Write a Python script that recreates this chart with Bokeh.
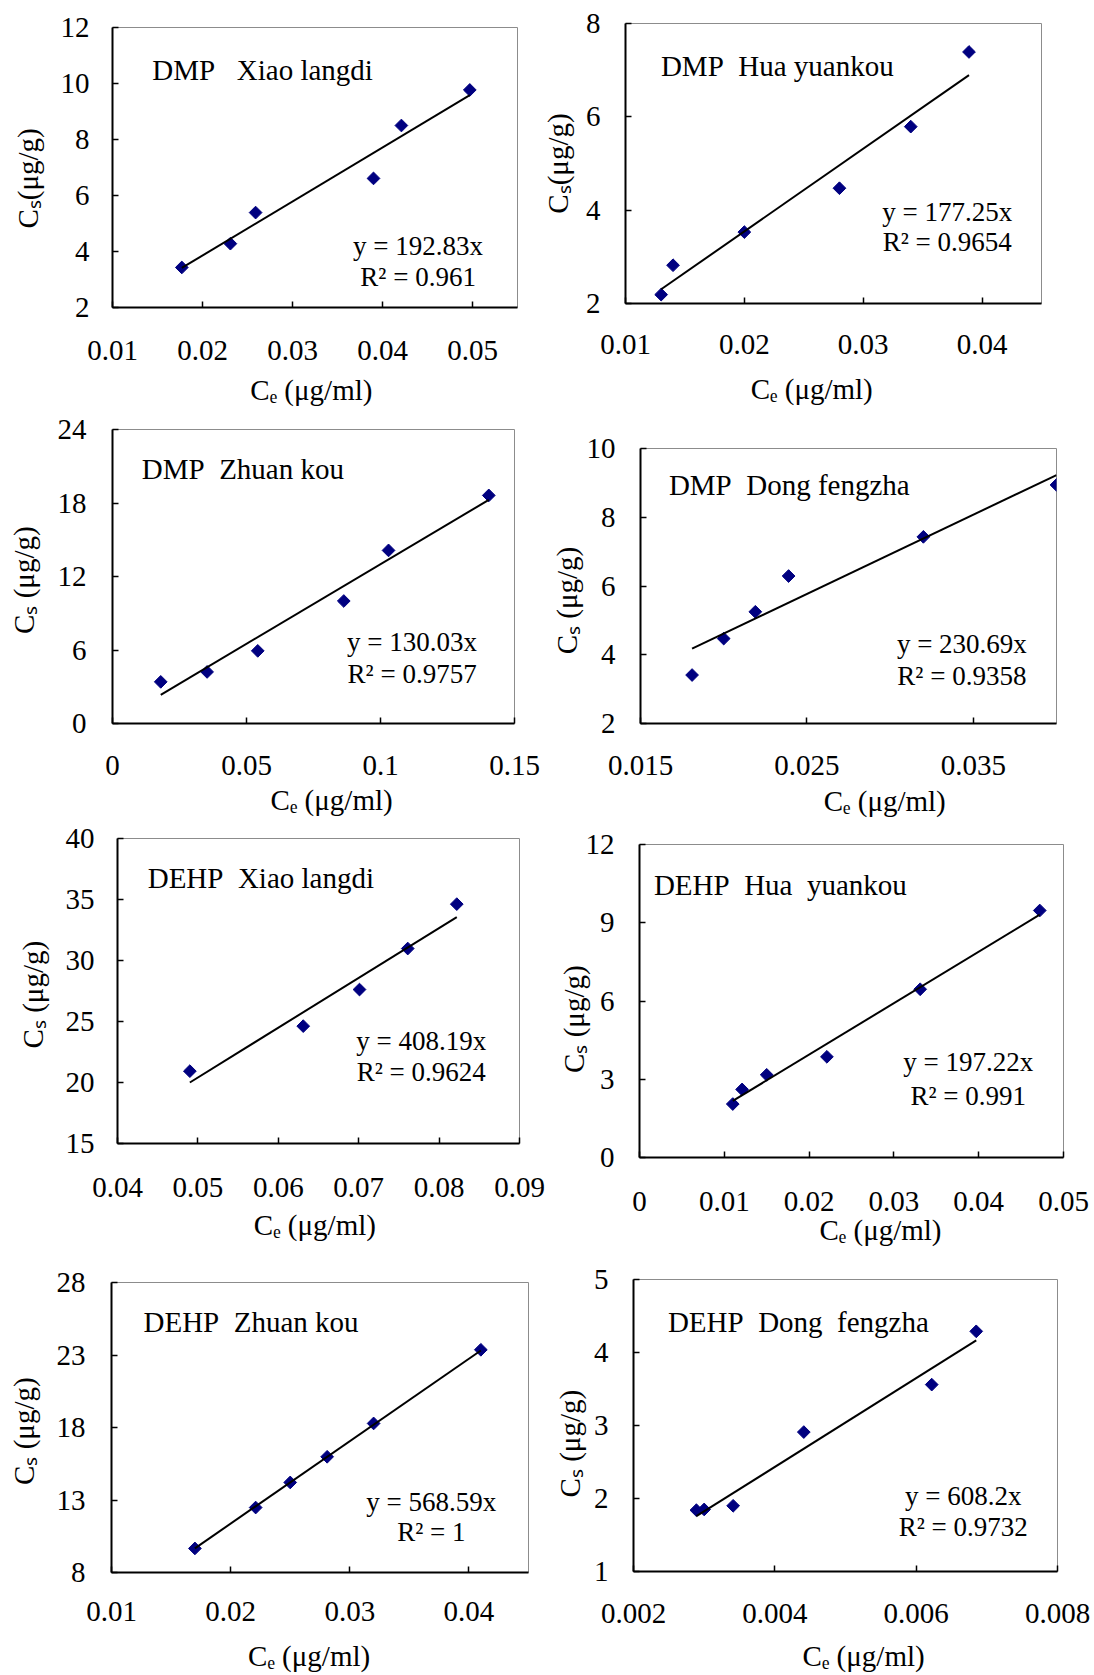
import numpy as np
from bokeh.plotting import figure
from bokeh.models import Range1d, FixedTicker, CustomJSTickFormatter, Label
from bokeh.layouts import column, row
from bokeh.embed import file_html
from bokeh.resources import INLINE

FONT = "'Liberation Serif'"
NB = "\u00a0"

# ---------------- data ----------------
p1_title = "DMP" + NB * 3 + "Xiao langdi"
p1_x = [0.0177, 0.0231, 0.0259, 0.0390, 0.0421, 0.0497]
p1_y = [3.43, 4.28, 5.39, 6.61, 8.50, 9.77]
p1_slope, p1_r2 = 192.83, "0.961"
p1_xticks = [0.01, 0.02, 0.03, 0.04, 0.05]
p1_xlabels = ["0.01", "0.02", "0.03", "0.04", "0.05"]
p1_yticks = [2, 4, 6, 8, 10, 12]
p1_xrange, p1_yrange = (0.01, 0.055), (2, 12)

p2_title = "DMP" + NB * 2 + "Hua yuankou"
p2_x = [0.0130, 0.0140, 0.0200, 0.0280, 0.0340, 0.0389]
p2_y = [2.19, 2.82, 3.53, 4.47, 5.79, 7.39]
p2_slope, p2_r2 = 177.25, "0.9654"
p2_xticks = [0.01, 0.02, 0.03, 0.04]
p2_xlabels = ["0.01", "0.02", "0.03", "0.04"]
p2_yticks = [2, 4, 6, 8]
p2_xrange, p2_yrange = (0.01, 0.045), (2, 8)

p3_title = "DMP" + NB * 2 + "Zhuan kou"
p3_x = [0.0180, 0.0353, 0.0542, 0.0863, 0.1030, 0.1404]
p3_y = [3.40, 4.21, 5.93, 10.0, 14.13, 18.62]
p3_slope, p3_r2 = 130.03, "0.9757"
p3_xticks = [0, 0.05, 0.1, 0.15]
p3_xlabels = ["0", "0.05", "0.1", "0.15"]
p3_yticks = [0, 6, 12, 18, 24]
p3_xrange, p3_yrange = (0, 0.15), (0, 24)

p4_title = "DMP" + NB * 2 + "Dong fengzha"
p4_x = [0.0181, 0.0200, 0.0219, 0.0239, 0.0320, 0.0400]
p4_y = [3.41, 4.47, 5.25, 6.29, 7.43, 8.94]
p4_slope, p4_r2 = 230.69, "0.9358"
p4_xticks = [0.015, 0.025, 0.035]
p4_xlabels = ["0.015", "0.025", "0.035"]
p4_yticks = [2, 4, 6, 8, 10]
p4_xrange, p4_yrange = (0.015, 0.04), (2, 10)

p5_title = "DEHP" + NB * 2 + "Xiao langdi"
p5_x = [0.0490, 0.0631, 0.0701, 0.0761, 0.0822]
p5_y = [20.93, 24.62, 27.62, 30.98, 34.62]
p5_slope, p5_r2 = 408.19, "0.9624"
p5_xticks = [0.04, 0.05, 0.06, 0.07, 0.08, 0.09]
p5_xlabels = ["0.04", "0.05", "0.06", "0.07", "0.08", "0.09"]
p5_yticks = [15, 20, 25, 30, 35, 40]
p5_xrange, p5_yrange = (0.04, 0.09), (15, 40)

p6_title = "DEHP" + NB * 2 + "Hua" + NB * 2 + "yuankou"
p6_x = [0.0110, 0.0121, 0.0150, 0.0221, 0.0331, 0.0472]
p6_y = [2.05, 2.61, 3.17, 3.86, 6.45, 9.47]
p6_slope, p6_r2 = 197.22, "0.991"
p6_xticks = [0, 0.01, 0.02, 0.03, 0.04, 0.05]
p6_xlabels = ["0", "0.01", "0.02", "0.03", "0.04", "0.05"]
p6_yticks = [0, 3, 6, 9, 12]
p6_xrange, p6_yrange = (0, 0.05), (0, 12)

p7_title = "DEHP" + NB * 2 + "Zhuan kou"
p7_x = [0.0170, 0.0221, 0.0250, 0.0281, 0.0320, 0.0410]
p7_y = [9.66, 12.48, 14.21, 15.98, 18.28, 23.36]
p7_slope, p7_r2 = 568.59, "1"
p7_xticks = [0.01, 0.02, 0.03, 0.04]
p7_xlabels = ["0.01", "0.02", "0.03", "0.04"]
p7_yticks = [8, 13, 18, 23, 28]
p7_xrange, p7_yrange = (0.01, 0.045), (8, 28)

p8_title = "DEHP" + NB * 2 + "Dong" + NB * 2 + "fengzha"
p8_x = [0.00289, 0.00300, 0.00341, 0.00441, 0.00622, 0.00685]
p8_y = [1.84, 1.85, 1.90, 2.91, 3.56, 4.29]
p8_slope, p8_r2 = 608.2, "0.9732"
p8_xticks = [0.002, 0.004, 0.006, 0.008]
p8_xlabels = ["0.002", "0.004", "0.006", "0.008"]
p8_yticks = [1, 2, 3, 4, 5]
p8_xrange, p8_yrange = (0.002, 0.008), (1, 5)

x_axis_title = "C\u2091 (μg/ml)"
y_axis_titles = ["C\u209b(μg/g)", "C\u209b(μg/g)"] + ["C\u209b (μg/g)"] * 6

panels = [
    (p1_title, p1_x, p1_y, p1_slope, p1_r2, p1_xticks, p1_xlabels, p1_yticks, p1_xrange, p1_yrange),
    (p2_title, p2_x, p2_y, p2_slope, p2_r2, p2_xticks, p2_xlabels, p2_yticks, p2_xrange, p2_yrange),
    (p3_title, p3_x, p3_y, p3_slope, p3_r2, p3_xticks, p3_xlabels, p3_yticks, p3_xrange, p3_yrange),
    (p4_title, p4_x, p4_y, p4_slope, p4_r2, p4_xticks, p4_xlabels, p4_yticks, p4_xrange, p4_yrange),
    (p5_title, p5_x, p5_y, p5_slope, p5_r2, p5_xticks, p5_xlabels, p5_yticks, p5_xrange, p5_yrange),
    (p6_title, p6_x, p6_y, p6_slope, p6_r2, p6_xticks, p6_xlabels, p6_yticks, p6_xrange, p6_yrange),
    (p7_title, p7_x, p7_y, p7_slope, p7_r2, p7_xticks, p7_xlabels, p7_yticks, p7_xrange, p7_yrange),
    (p8_title, p8_x, p8_y, p8_slope, p8_r2, p8_xticks, p8_xlabels, p8_yticks, p8_xrange, p8_yrange),
]

# ---------------- layout (page pixels) ----------------
# o: figure origin, s: figure size, f: frame (L, T, R, B)
# xs/ys: tick-label standoffs, xts/yts: axis-title standoffs,
# xpad/ypad: (leading, trailing) non-breaking spaces shifting the centred axis titles
layouts = [
    dict(o=(0, 0), s=(538, 410), f=(112, 27, 517, 307), title=(151.7, 80), eq=(417.6, 255, 286.5),
         xs=33, ys=23, xts=11, yts=14, xpad=(0, 1), ypad=(0, 3)),
    dict(o=(538, 0), s=(556, 410), f=(625, 23, 1041, 303), title=(660.4, 76), eq=(946.8, 221.5, 251.5),
         xs=31, ys=25, xts=16, yts=9, xpad=(0, 6), ypad=(0, 0)),
    dict(o=(0, 410), s=(547, 410), f=(112, 429, 514, 723), title=(141.3, 479), eq=(411.6, 651.5, 683),
         xs=32, ys=26, xts=6, yts=15, xpad=(5, 0), ypad=(0, 1)),
    dict(o=(547, 410), s=(547, 410), f=(637, 448, 1056, 723), title=(665.6, 495), eq=(960.7, 653, 685),
         xs=32, ys=25, xts=7, yts=1, xpad=(10, 0), ypad=(0, 4)),
    dict(o=(0, 820), s=(547, 435), f=(117, 838, 519, 1143), title=(147.2, 887.7), eq=(420.7, 1050, 1081.5),
         xs=34, ys=23, xts=9, yts=14, xpad=(0, 1), ypad=(0, 1)),
    dict(o=(547, 820), s=(547, 435), f=(639, 844, 1063, 1157), title=(653.4, 895), eq=(967.7, 1071.5, 1105),
         xs=34, ys=25, xts=0, yts=-7, xpad=(8, 0), ypad=(0, 5)),
    dict(o=(0, 1255), s=(547, 420), f=(111, 1282, 528, 1572), title=(143, 1331.7), eq=(430.8, 1511.5, 1541.5),
         xs=29, ys=26, xts=16, yts=14, xpad=(0, 3), ypad=(0, 1)),
    dict(o=(547, 1255), s=(547, 420), f=(633, 1279, 1057, 1571), title=(667.4, 1331.7), eq=(962.7, 1505, 1536.5),
         xs=32, ys=25, xts=14, yts=5, xpad=(5, 0), ypad=(0, 5)),
]

TICK_JS = ("const i = vals.findIndex(v => Math.abs(v - tick) < 1e-9); "
           "return i >= 0 ? labs[i] : '';")

TITLE_PX, EQ_PX, TICK_PX, AXT_PX = 29, 27, 29, 29


def make_panel(idx, spec, lay):
    title, xs, ys, slope, r2, xticks, xlabels, yticks, xr, yr = spec
    ox, oy = lay["o"]
    w, h = lay["s"]
    L, T, R, B = lay["f"]
    p = figure(width=w, height=h, x_range=Range1d(*xr), y_range=Range1d(*yr),
               output_backend="svg", toolbar_location=None, title_location=None,
               min_border_left=L - ox, min_border_top=T - oy,
               min_border_right=ox + w - R, min_border_bottom=oy + h - B,
               background_fill_color="white", border_fill_color="white")
    try:
        p.frame_align = False
    except Exception:
        pass
    p.xgrid.grid_line_color = None
    p.ygrid.grid_line_color = None
    p.outline_line_color = "#8c8c8c"
    p.outline_line_width = 1

    def fx(px):
        return xr[0] + (px - L) / (R - L) * (xr[1] - xr[0])

    def fy(py):
        return yr[0] + (B - py) / (B - T) * (yr[1] - yr[0])

    for ax in (p.xaxis[0], p.yaxis[0]):
        ax.axis_line_width = 2
        ax.axis_line_color = "black"
        ax.major_tick_in = 6
        ax.major_tick_out = 0
        ax.major_tick_line_width = 1.5
        ax.major_tick_line_color = "black"
        ax.minor_tick_line_color = None
        ax.major_label_text_font = FONT
        ax.major_label_text_font_size = f"{TICK_PX}px"
        ax.major_label_text_color = "black"
        ax.axis_label_text_font = FONT
        ax.axis_label_text_font_size = f"{AXT_PX}px"
        ax.axis_label_text_font_style = "normal"
        ax.axis_label_text_color = "black"
    p.xaxis.major_label_standoff = lay["xs"]
    p.yaxis.major_label_standoff = lay["ys"]
    p.xaxis.axis_label_standoff = lay["xts"]
    p.yaxis.axis_label_standoff = lay["yts"]
    lx, tx_ = lay["xpad"]
    p.xaxis.axis_label = NB * lx + x_axis_title + NB * tx_
    ly, ty_ = lay["ypad"]
    p.yaxis.axis_label = NB * ly + y_axis_titles[idx] + NB * ty_

    p.xaxis.ticker = FixedTicker(ticks=xticks)
    p.yaxis.ticker = FixedTicker(ticks=yticks)
    p.xaxis.formatter = CustomJSTickFormatter(args=dict(vals=xticks, labs=xlabels), code=TICK_JS)
    ylabels = [str(v) for v in yticks]
    p.yaxis.formatter = CustomJSTickFormatter(args=dict(vals=yticks, labs=ylabels), code=TICK_JS)

    # data points and trendline
    p.scatter(xs, ys, marker="square", size=9, angle=np.pi / 4,
              fill_color="#000080", line_color="#000080")
    tline = np.array([min(xs), max(xs)])
    p.line(tline, slope * tline, line_color="black", line_width=2)

    def lab(text, px, py, size, align="left"):
        # rendered baseline sits ~0.36 em below the anchor; compensate
        p.add_layout(Label(x=fx(px), y=fy(py - 0.36 * size), text=text, text_font=FONT,
                           text_font_size=f"{size}px", text_align=align,
                           text_baseline="alphabetic", text_color="black"))

    tx0, ty0 = lay["title"]
    lab(title, tx0, ty0, TITLE_PX)
    ex, e1, e2 = lay["eq"]
    lab(f"y = {slope:g}x", ex, e1, EQ_PX, align="center")
    lab(f"R² = {r2}", ex, e2, EQ_PX, align="center")
    return p


figs = [make_panel(i, panels[i], layouts[i]) for i in range(8)]
layout = column(row(figs[0], figs[1]), row(figs[2], figs[3]),
                row(figs[4], figs[5]), row(figs[6], figs[7]))

open("out.html", "w").write(file_html(layout, INLINE))
